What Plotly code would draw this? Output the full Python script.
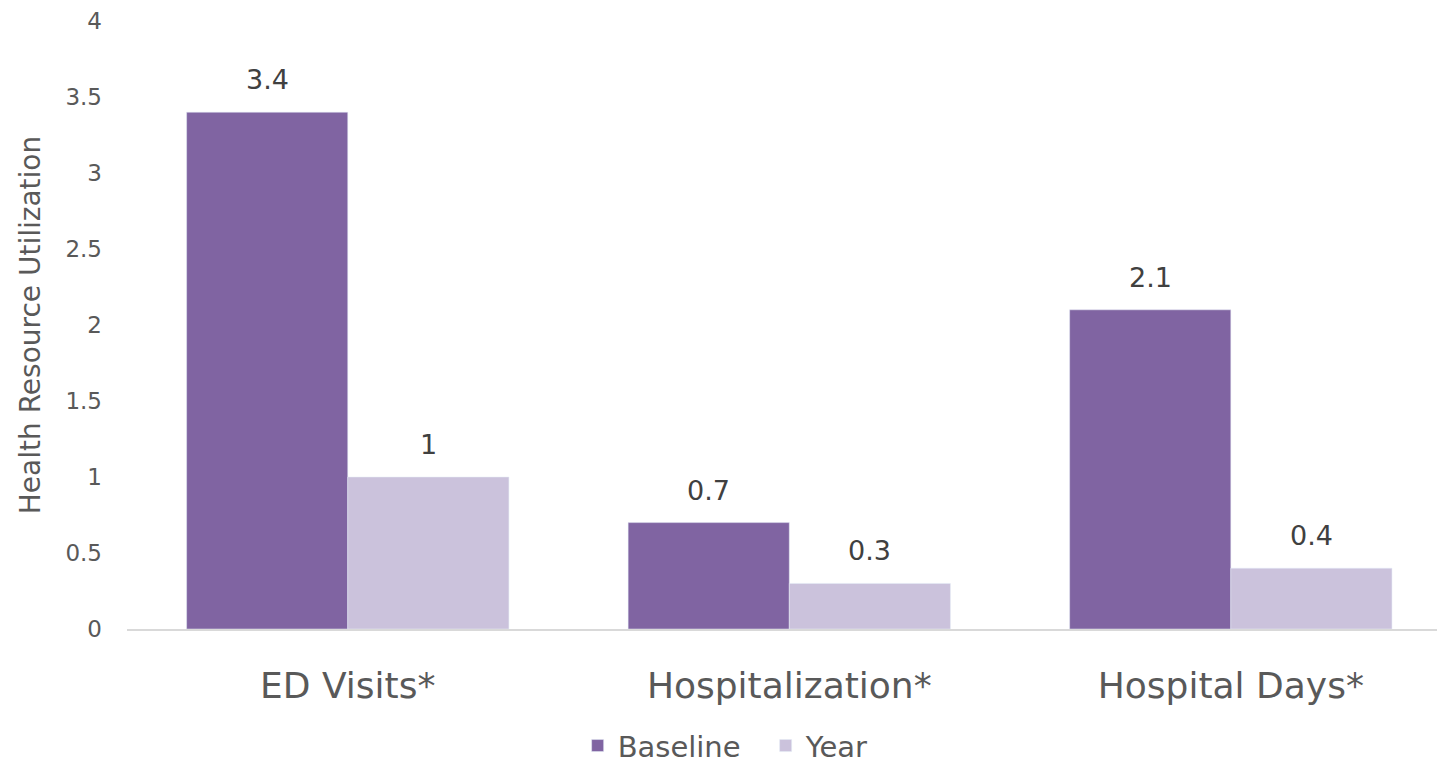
import plotly.graph_objects as go

categories = ["ED Visits*", "Hospitalization*", "Hospital Days*"]
baseline = [3.4, 0.7, 2.1]
year = [1, 0.3, 0.4]
y_ticks = [0, 0.5, 1, 1.5, 2, 2.5, 3, 3.5, 4]
y_tick_labels = ["0", "0.5", "1", "1.5", "2", "2.5", "3", "3.5", "4"]

FONT = "'DejaVu Sans', sans-serif"
BASE_COLOR = "#8064A2"
YEAR_COLOR = "#CBC2DC"

fig = go.Figure()
fig.add_trace(go.Bar(name="Baseline", x=categories, y=baseline, marker_color=BASE_COLOR))
fig.add_trace(go.Bar(name="Year", x=categories, y=year, marker_color=YEAR_COLOR))

# value labels above each bar
half_bar_px = 0.73 * (1310 / 2.967) / 4
for vals, sign in ((baseline, -1), (year, 1)):
    for cat, v in zip(categories, vals):
        fig.add_annotation(x=cat, y=v, text=f"{v:g}", showarrow=False,
                           xshift=sign * half_bar_px, yshift=15, yanchor="bottom",
                           font=dict(size=27, color="#404040", family=FONT))

fig.update_layout(
    width=1437, height=769,
    barmode="group", bargap=0.27, bargroupgap=0,
    plot_bgcolor="white", paper_bgcolor="white",
    margin=dict(l=127, r=0, t=21, b=140, autoexpand=False),
    font=dict(family=FONT, color="#595959"),
    legend=dict(orientation="h", x=0.344, xanchor="left", y=-0.150, yanchor="top",
                entrywidth=143, entrywidthmode="pixels",
                font=dict(size=29, color="#595959"), traceorder="normal"),
)
fig.update_xaxes(range=[-0.5, 2.467], showline=True, linecolor="#D9D9D9", linewidth=1.5,
                 ticks="", tickfont=dict(size=36, color="#595959"), ticklabelstandoff=24)
fig.update_yaxes(range=[0, 4], tickvals=y_ticks, ticktext=y_tick_labels, showgrid=False,
                 zeroline=False, tickfont=dict(size=23, color="#595959"), ticklabelstandoff=24,
                 title=dict(text="Health Resource Utilization", font=dict(size=28, color="#595959"),
                            standoff=16))
fig.write_html("out.html", config={"displayModeBar": False},
               post_script="document.body.style.margin='0';")
